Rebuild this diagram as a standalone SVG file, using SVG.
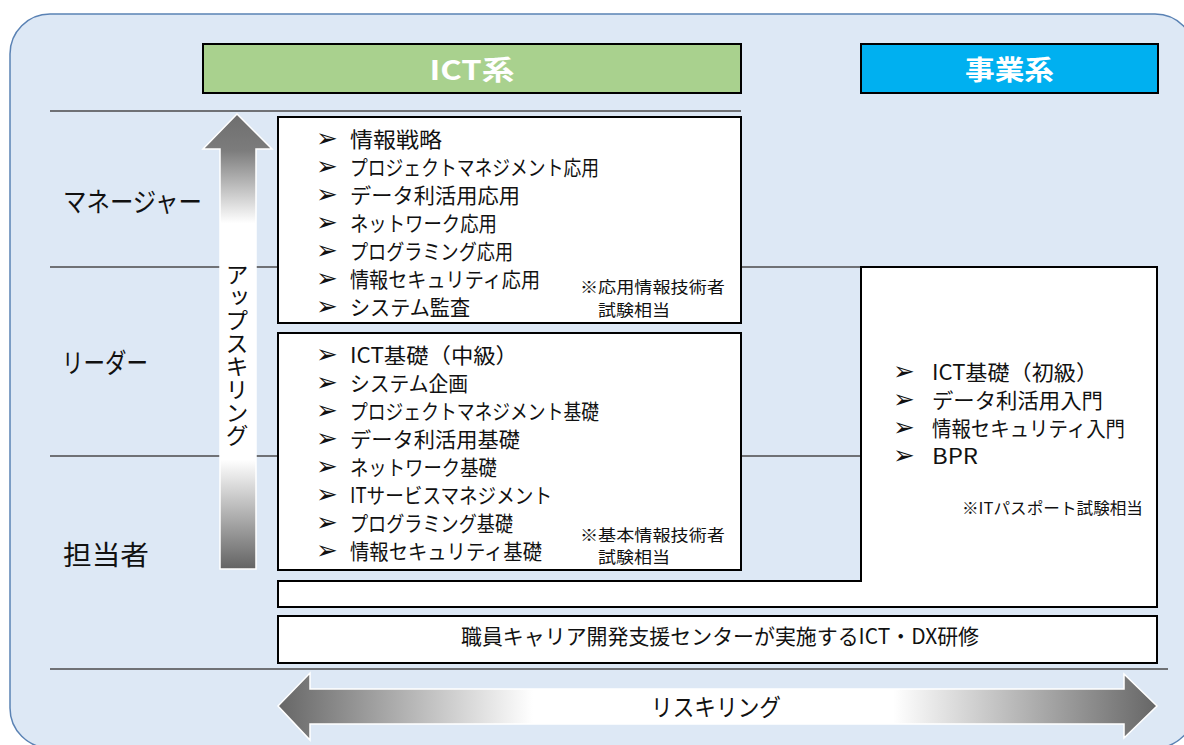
<svg xmlns="http://www.w3.org/2000/svg" width="1184" height="745" viewBox="0 0 1184 745">
  <defs>
    <linearGradient id="gUp" gradientUnits="userSpaceOnUse" x1="0" y1="114" x2="0" y2="569">
      <stop offset="0" stop-color="#6e6e6e"/>
      <stop offset="0.08" stop-color="#7c7c7c"/>
      <stop offset="0.24" stop-color="#ffffff"/>
      <stop offset="0.76" stop-color="#ffffff"/>
      <stop offset="1" stop-color="#636363"/>
    </linearGradient>
    <linearGradient id="gLR" gradientUnits="userSpaceOnUse" x1="278" y1="0" x2="1157" y2="0">
      <stop offset="0" stop-color="#666666"/>
      <stop offset="0.29" stop-color="#ffffff"/>
      <stop offset="0.70" stop-color="#ffffff"/>
      <stop offset="1" stop-color="#666666"/>
    </linearGradient>
    <style>
      .jp { font-family: "Noto Sans CJK JP", "Noto Sans", sans-serif; fill: #111111; }
      .item { font-size: 21px; }
      .note { font-size: 16px; }
      .lvl { font-size: 27px; }
      .hdr { font-family: "Noto Sans CJK JP", "Noto Sans", sans-serif; font-size: 27px; font-weight: bold; fill: #ffffff; text-anchor: middle; }
      .bul { font-family: "DejaVu Sans", sans-serif; font-size: 26px; fill: #111111; }
      .box { fill: #ffffff; stroke: #000000; stroke-width: 2; }
      .lvline { stroke: #4a4a4a; stroke-width: 1.3; fill: none; }
    </style>
  </defs>

  <g id="background">
    <rect x="10" y="14" width="1185" height="734" rx="40" ry="40" fill="#dde8f5" stroke="#5a82b4" stroke-width="1.5"/>
  </g>

  <g id="level-lines">
    <line class="lvline" x1="50" y1="111" x2="741" y2="111" stroke="#000"/>
    <line class="lvline" x1="50" y1="267" x2="861" y2="267"/>
    <line class="lvline" x1="50" y1="456" x2="861" y2="456"/>
    <line class="lvline" x1="50" y1="669" x2="1168" y2="669" stroke="#222"/>
  </g>

  <g id="header-ict">
    <rect x="203" y="44" width="538" height="49" fill="#a9d18e" stroke="#000" stroke-width="2"/>
    <text class="hdr" x="472" y="80" textLength="85" lengthAdjust="spacingAndGlyphs">ICT系</text>
  </g>
  <g id="header-business">
    <rect x="861" y="44" width="297" height="49" fill="#00b0f0" stroke="#000" stroke-width="2"/>
    <text class="hdr" x="1009.5" y="80" textLength="89" lengthAdjust="spacingAndGlyphs">事業系</text>
  </g>

  <g id="level-labels">
    <text class="jp lvl" x="63" y="212" textLength="139" lengthAdjust="spacingAndGlyphs">マネージャー</text>
    <text class="jp lvl" x="62" y="373" textLength="86" lengthAdjust="spacingAndGlyphs">リーダー</text>
    <text class="jp lvl" x="63" y="565" textLength="86" lengthAdjust="spacingAndGlyphs">担当者</text>
  </g>

  <g id="upskilling-arrow">
    <polygon points="237,114 272,149 256,149 256,569 220,569 220,149 203,149" fill="url(#gUp)" stroke="#ffffff" stroke-width="1.5"/>
    <text class="jp" x="237" y="263" font-size="23" writing-mode="tb" style="writing-mode: vertical-rl">アップスキリング</text>
  </g>

  <g id="ict-advanced">
    <rect class="box" x="278" y="117" width="463" height="206"/>
    <g class="bul">
      <text x="316" y="147">➢</text><text x="316" y="175">➢</text><text x="316" y="203">➢</text><text x="316" y="231">➢</text><text x="316" y="259">➢</text><text x="316" y="287">➢</text><text x="316" y="315">➢</text>
    </g>
    <text class="jp item" x="350" y="147" textLength="92" lengthAdjust="spacingAndGlyphs">情報戦略</text>
    <text class="jp item" x="350" y="175" textLength="249" lengthAdjust="spacingAndGlyphs">プロジェクトマネジメント応用</text>
    <text class="jp item" x="350" y="203" textLength="170" lengthAdjust="spacingAndGlyphs">データ利活用応用</text>
    <text class="jp item" x="350" y="231" textLength="147" lengthAdjust="spacingAndGlyphs">ネットワーク応用</text>
    <text class="jp item" x="350" y="259" textLength="163" lengthAdjust="spacingAndGlyphs">プログラミング応用</text>
    <text class="jp item" x="350" y="287" textLength="190" lengthAdjust="spacingAndGlyphs">情報セキュリティ応用</text>
    <text class="jp item" x="350" y="315" textLength="120" lengthAdjust="spacingAndGlyphs">システム監査</text>
    <text class="jp note" x="580" y="293" textLength="145" lengthAdjust="spacingAndGlyphs">※応用情報技術者</text>
    <text class="jp note" x="598" y="316" textLength="72" lengthAdjust="spacingAndGlyphs">試験相当</text>
  </g>

  <g id="ict-basic">
    <rect class="box" x="278" y="333" width="463" height="237"/>
    <g class="bul">
      <text x="316" y="363">➢</text><text x="316" y="391">➢</text><text x="316" y="419">➢</text><text x="316" y="447">➢</text><text x="316" y="475">➢</text><text x="316" y="503">➢</text><text x="316" y="531">➢</text><text x="316" y="559">➢</text>
    </g>
    <text class="jp item" x="350" y="363" textLength="168" lengthAdjust="spacingAndGlyphs">ICT基礎（中級）</text>
    <text class="jp item" x="350" y="391" textLength="118" lengthAdjust="spacingAndGlyphs">システム企画</text>
    <text class="jp item" x="350" y="419" textLength="249" lengthAdjust="spacingAndGlyphs">プロジェクトマネジメント基礎</text>
    <text class="jp item" x="350" y="447" textLength="170" lengthAdjust="spacingAndGlyphs">データ利活用基礎</text>
    <text class="jp item" x="350" y="475" textLength="147" lengthAdjust="spacingAndGlyphs">ネットワーク基礎</text>
    <text class="jp item" x="350" y="503" textLength="202" lengthAdjust="spacingAndGlyphs">ITサービスマネジメント</text>
    <text class="jp item" x="350" y="531" textLength="163" lengthAdjust="spacingAndGlyphs">プログラミング基礎</text>
    <text class="jp item" x="350" y="559" textLength="192" lengthAdjust="spacingAndGlyphs">情報セキュリティ基礎</text>
    <text class="jp note" x="580" y="541" textLength="145" lengthAdjust="spacingAndGlyphs">※基本情報技術者</text>
    <text class="jp note" x="598" y="563" textLength="72" lengthAdjust="spacingAndGlyphs">試験相当</text>
  </g>

  <g id="business-entry">
    <path class="box" d="M278,581 H861 V267 H1157 V607 H278 Z"/>
    <g class="bul">
      <text x="893" y="380">➢</text><text x="893" y="408">➢</text><text x="893" y="436">➢</text><text x="893" y="464">➢</text>
    </g>
    <text class="jp item" x="932" y="380" textLength="166" lengthAdjust="spacingAndGlyphs">ICT基礎（初級）</text>
    <text class="jp item" x="932" y="408" textLength="171" lengthAdjust="spacingAndGlyphs">データ利活用入門</text>
    <text class="jp item" x="932" y="436" textLength="193" lengthAdjust="spacingAndGlyphs">情報セキュリティ入門</text>
    <text class="jp item" x="932" y="464" textLength="46" lengthAdjust="spacingAndGlyphs">BPR</text>
    <text class="jp" x="962" y="514" font-size="16" textLength="181" lengthAdjust="spacingAndGlyphs">※ITパスポート試験相当</text>
  </g>

  <g id="center-training">
    <rect class="box" x="278" y="616" width="879" height="47"/>
    <text class="jp" x="461" y="644" font-size="21" textLength="518" lengthAdjust="spacingAndGlyphs">職員キャリア開発支援センターが実施するICT・DX研修</text>
  </g>

  <g id="reskilling-arrow">
    <polygon points="278,706 310,673 310,689 1124,689 1124,674 1157,706 1124,738 1124,724 310,724 310,740" fill="url(#gLR)" stroke="#ffffff" stroke-width="1.5"/>
    <text class="jp" x="651" y="716" font-size="24" textLength="130" lengthAdjust="spacingAndGlyphs">リスキリング</text>
  </g>
</svg>
